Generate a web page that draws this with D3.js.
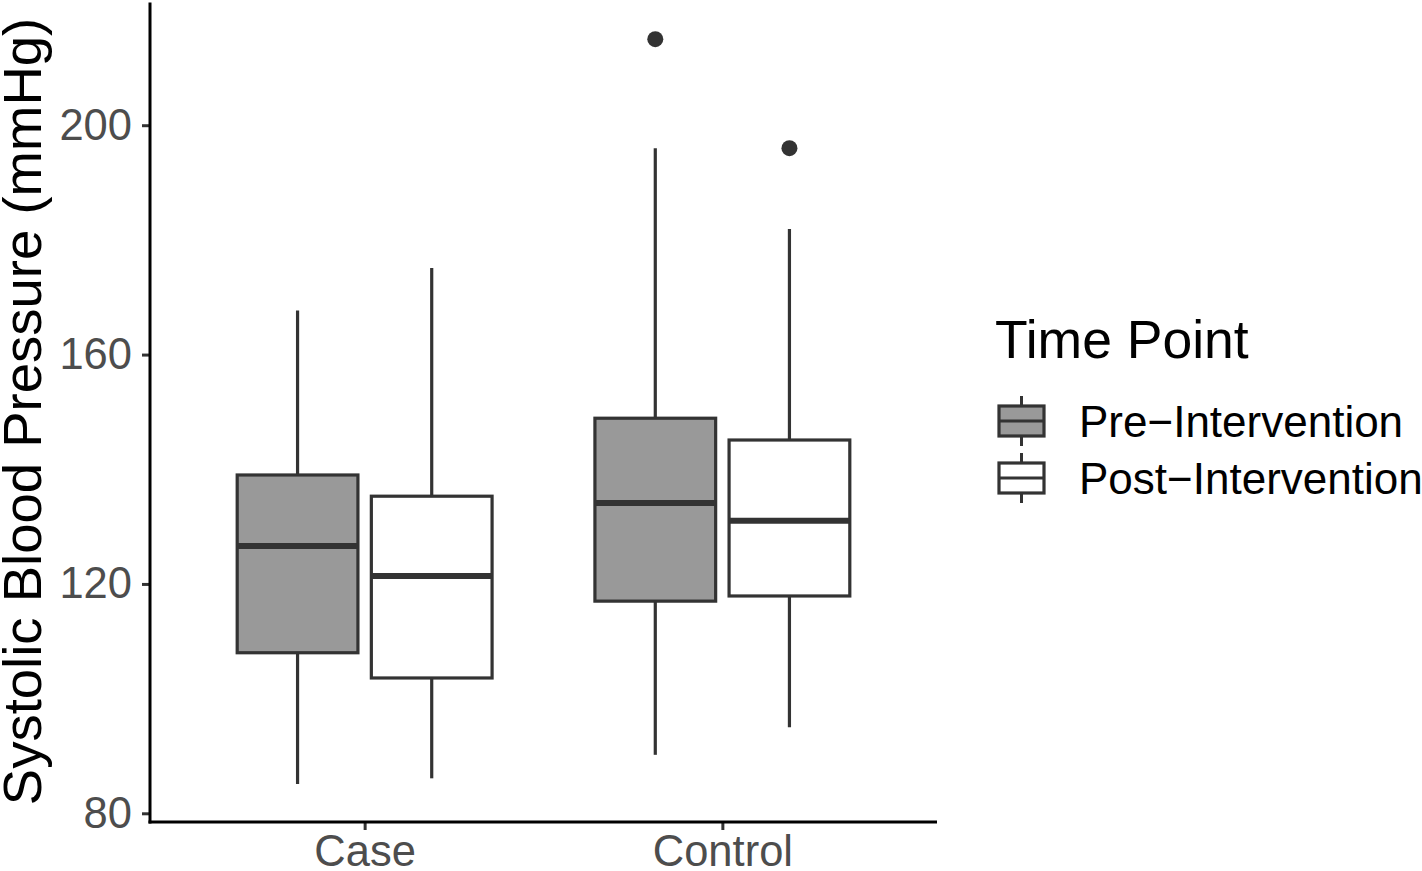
<!DOCTYPE html>
<html>
<head>
<meta charset="utf-8">
<script src="https://cdn.jsdelivr.net/npm/d3@7"></script>
<style>
  html, body { margin: 0; padding: 0; background: #fff; }
  svg { display: block; font-family: "Liberation Sans", Arial, Helvetica, sans-serif; }
</style>
</head>
<body>
<svg id="chart" width="1422" height="871"></svg>
<script>
// ---- Data ----
const groups = ["Case", "Control"];
const timePoints = ["Pre\u2212Intervention", "Post\u2212Intervention"];
const timeFills = ["#999999", "#FFFFFF"];
// [group, timePoint index, lowerWhisker, Q1, median, Q3, upperWhisker]
const caseStats = [
  ["Case", 0, 85.1, 108.0, 126.6, 139.0, 167.7],
  ["Case", 1, 86.1, 103.6, 121.4, 135.3, 175.1]
];
const controlStats = [
  ["Control", 0, 90.2, 117.0, 134.1, 148.9, 196.0],
  ["Control", 1, 95.0, 117.9, 131.0, 145.1, 181.9]
];
// outliers: [group, timePoint index, value]
const outliers = [
  ["Control", 0, 215.0],
  ["Control", 1, 196.0]
];
const yTicks = [80, 120, 160, 200];

// ---- Layout ----
const svg = d3.select("#chart");
const plot = { left: 150, right: 937, top: 2, bottom: 822 };
const ink = "#333333";

const y = d3.scaleLinear().domain([78.57, 221.4]).range([821.5, 2.5]);
const x = d3.scalePoint().domain(groups).range([plot.left, plot.right]).padding(0.6);
const step = x.step();
const sub = d3.scaleBand().domain([0, 1]).range([-0.375 * step, 0.375 * step])
  .paddingInner(0.1).paddingOuter(0.05);

const stats = caseStats.concat(controlStats).map(d => ({
  g: d[0], t: d[1], lo: d[2], q1: d[3], med: d[4], q3: d[5], hi: d[6]
}));

const gBoxes = svg.append("g");
stats.forEach(d => {
  const x0 = x(d.g) + sub(d.t);
  const w = sub.bandwidth();
  const cx = x0 + w / 2;
  gBoxes.append("line").attr("x1", cx).attr("x2", cx)
    .attr("y1", y(d.q3)).attr("y2", y(d.hi))
    .attr("stroke", ink).attr("stroke-width", 3.2);
  gBoxes.append("line").attr("x1", cx).attr("x2", cx)
    .attr("y1", y(d.q1)).attr("y2", y(d.lo))
    .attr("stroke", ink).attr("stroke-width", 3.2);
  gBoxes.append("rect").attr("x", x0).attr("width", w)
    .attr("y", y(d.q3)).attr("height", y(d.q1) - y(d.q3))
    .attr("fill", timeFills[d.t]).attr("stroke", ink).attr("stroke-width", 3.2);
  gBoxes.append("line").attr("x1", x0).attr("x2", x0 + w)
    .attr("y1", y(d.med)).attr("y2", y(d.med))
    .attr("stroke", ink).attr("stroke-width", 6);
});

outliers.forEach(o => {
  const cx = x(o[0]) + sub(o[1]) + sub.bandwidth() / 2;
  gBoxes.append("circle").attr("cx", cx).attr("cy", y(o[2])).attr("r", 8).attr("fill", ink);
});

// ---- Axes ----
const yAxis = svg.append("g").attr("transform", `translate(${plot.left},0)`)
  .call(d3.axisLeft(y).tickValues(yTicks).tickSize(8).tickPadding(10));
const xAxis = svg.append("g").attr("transform", `translate(0,${plot.bottom})`)
  .call(d3.axisBottom(x).tickSize(8).tickPadding(5));

[yAxis, xAxis].forEach(a => {
  a.select(".domain").remove();
  a.selectAll(".tick line").attr("stroke", ink).attr("stroke-width", 3);
  a.selectAll(".tick text").attr("fill", "#4D4D4D").attr("font-size", 43.5)
    .attr("font-family", "Liberation Sans, Arial, sans-serif");
});
xAxis.selectAll(".tick text").attr("dy", "0.71em");

// axis lines
svg.append("line").attr("x1", plot.left).attr("x2", plot.left)
  .attr("y1", 2.5).attr("y2", plot.bottom + 1.5).attr("stroke", "#000").attr("stroke-width", 3);
svg.append("line").attr("x1", plot.left - 1.5).attr("x2", plot.right)
  .attr("y1", plot.bottom).attr("y2", plot.bottom).attr("stroke", "#000").attr("stroke-width", 3);

// axis title
svg.append("text")
  .attr("transform", `translate(41,${(23 + 800) / 2}) rotate(-90)`)
  .attr("text-anchor", "middle").attr("font-size", 54.5).attr("fill", "#000")
  .text("Systolic Blood Pressure (mmHg)");

// ---- Legend ----
const leg = svg.append("g");
leg.append("text").attr("x", 995).attr("y", 358).attr("font-size", 53.5).attr("fill", "#000")
  .text("Time Point");
const keyCenters = [421, 478];
timePoints.forEach((t, i) => {
  const cy = keyCenters[i];
  const kx = 1021.5;
  leg.append("line").attr("x1", kx).attr("x2", kx).attr("y1", cy - 25).attr("y2", cy + 25)
    .attr("stroke", ink).attr("stroke-width", 3);
  leg.append("rect").attr("x", 999).attr("y", cy - 15).attr("width", 45).attr("height", 30)
    .attr("fill", timeFills[i]).attr("stroke", ink).attr("stroke-width", 3.2);
  leg.append("line").attr("x1", 999).attr("x2", 1044).attr("y1", cy).attr("y2", cy)
    .attr("stroke", ink).attr("stroke-width", 3.2);
  leg.append("text").attr("x", 1079).attr("y", cy).attr("dy", "0.36em")
    .attr("font-size", 44).attr("fill", "#000").text(t);
});
</script>
</body>
</html>
